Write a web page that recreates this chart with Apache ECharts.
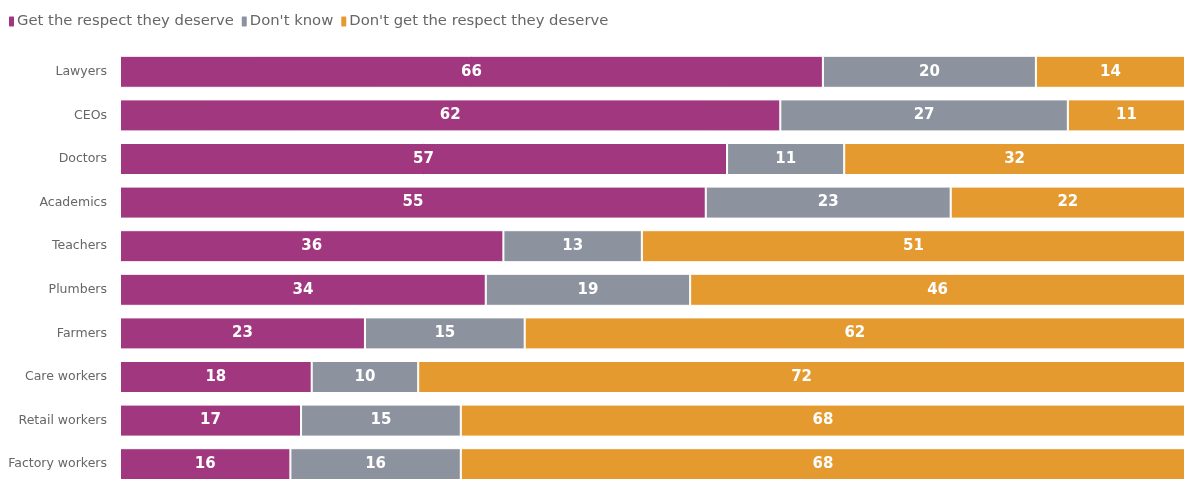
<!DOCTYPE html>
<html>
<head>
<meta charset="utf-8">
<script src="https://cdn.jsdelivr.net/npm/echarts@6/dist/echarts.min.js"></script>
<style>
html,body{margin:0;padding:0;background:#fff;}
#chart{width:1188px;height:479px;}
</style>
</head>
<body>
<div id="chart"></div>
<script>
const categories = ["Lawyers","CEOs","Doctors","Academics","Teachers","Plumbers","Farmers","Care workers","Retail workers","Factory workers"];
const seriesNames = ["Get the respect they deserve","Don't know","Don't get the respect they deserve"];
const getRespect = [66,62,57,55,36,34,23,18,17,16];
const dontKnow = [20,27,11,23,13,19,15,10,15,16];
const dontGet = [14,11,32,22,51,46,62,72,68,68];
const colors = ["#A0377F","#8D939E","#E59A2F"];

const raw = [getRespect, dontKnow, dontGet];
const totals = categories.map((_, i) => raw.reduce((s, a) => s + a[i], 0));

const chart = echarts.init(document.getElementById('chart'));
chart.setOption({
  animation: false,
  backgroundColor: '#fff',
  legend: {
    left: 2, top: 9,
    itemWidth: 7, itemHeight: 12, itemGap: 6,
    icon: 'roundRect',
    textStyle: { color: '#666', fontSize: 14.8, fontFamily: '"DejaVu Sans", sans-serif', padding: [0,0,0,-3] },
    data: seriesNames
  },
  grid: { left: 120, right: 3, top: 50, height: 436, containLabel: false, outerBoundsMode: 'none' },
  xAxis: { type: 'value', min: 0, max: 100, show: false },
  yAxis: {
    type: 'category', inverse: true, data: categories,
    axisLine: { show: false }, axisTick: { show: false },
    axisLabel: { color: '#666', fontSize: 12.5, fontFamily: '"DejaVu Sans", sans-serif', margin: 13 }
  },
  series: raw.map((arr, k) => ({
    name: seriesNames[k],
    type: 'bar',
    stack: 'total',
    barWidth: 32,
    itemStyle: { color: colors[k], borderColor: '#fff', borderWidth: 1 },
    label: {
      show: true, position: 'inside', color: '#fff', fontWeight: 'bold',
      fontSize: 15, fontFamily: '"DejaVu Sans", sans-serif',
      formatter: p => String(arr[p.dataIndex])
    },
    data: arr.map((v, i) => v / totals[i] * 100)
  }))
});
</script>
</body>
</html>
